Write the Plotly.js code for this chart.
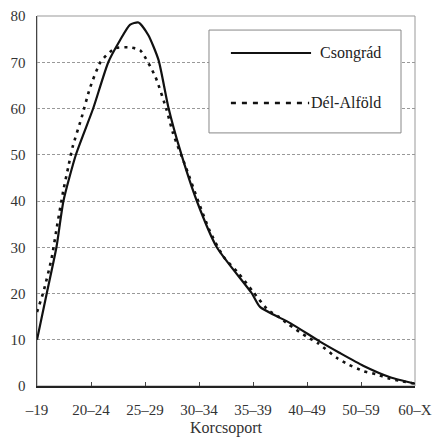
<!DOCTYPE html>
<html>
<head>
<meta charset="utf-8">
<script src="https://cdn.plot.ly/plotly-3.0.1.min.js"></script>
<style>html,body{margin:0;padding:0;background:#fff;}#chart{width:433px;height:437px;}</style>
</head>
<body>
<div id="chart"></div>
<script>
// Category tick labels (age groups)
const categories = ["–19", "20–24", "25–29", "30–34", "35–39", "40–49", "50–59", "60–X"];
const categoryPos = [0, 1, 2, 3, 4, 5, 6, 7];
const xTitle = "Korcsoport";

// Csongrád (solid) – positions along the category axis and values
const csongradX = [0, 0.18, 0.36, 0.49, 0.72, 1.04, 1.32, 1.54, 1.72, 1.88, 2.06, 2.25, 2.43, 2.65, 2.96, 3.33, 3.98, 4.13, 4.69, 5.24, 5.6, 6.04, 6.54, 7];
const csongradY = [10, 20, 30, 40, 50, 60, 70, 74.8, 78.1, 78.6, 75.9, 70.5, 60.4, 51, 40, 30, 20, 17.1, 13.6, 9.6, 7.2, 4.4, 1.9, 0.5];

// Dél-Alföld (dotted)
const delalfoldX = [0, 0.12, 0.27, 0.38, 0.49, 0.58, 0.66, 0.83, 0.98, 1.18, 1.44, 1.72, 1.91, 2.19, 2.40, 2.52, 2.75, 3.0, 3.2, 3.45, 3.73, 4.0, 4.28, 4.47, 4.65, 4.99, 5.21, 5.55, 5.74, 6.05, 6.29, 6.5, 6.72, 7];
const delalfoldY = [16, 20.4, 27.6, 35.2, 42.4, 47.4, 51.7, 58.2, 64.4, 70.1, 73, 73.2, 72.6, 66.9, 59.7, 54.6, 47.5, 39.5, 33.5, 28, 24.4, 20.4, 16.4, 15, 13.4, 10.7, 9.2, 6.1, 4.8, 3.2, 2.5, 1.7, 1.1, 0.5];

const seriesNames = ["Csongrád", "Dél-Alföld"];

const font = "Liberation Serif, Times New Roman, serif";

const traces = [
  {x: csongradX, y: csongradY, name: seriesNames[0], type: "scatter", mode: "lines",
   line: {color: "#111", width: 2.2, shape: "spline", smoothing: 0.6}, showlegend: false},
  {x: delalfoldX, y: delalfoldY, name: seriesNames[1], type: "scatter", mode: "lines",
   line: {color: "#111", width: 2.6, dash: "3px,5px", shape: "spline", smoothing: 0.6}, showlegend: false}
];

const layout = {
  width: 433, height: 437,
  margin: {l: 37, r: 18, t: 16, b: 51},
  paper_bgcolor: "#fff", plot_bgcolor: "#fff",
  font: {family: font, color: "#333", size: 15},
  showlegend: false,
  xaxis: {
    range: [0, 7], tickvals: categoryPos, ticktext: categories,
    showgrid: false, zeroline: false,
    showline: true, linecolor: "#222", linewidth: 1.5,
    ticks: "inside", ticklen: 4, tickcolor: "#444",
    ticklabelstandoff: 9,
    tickfont: {family: font, size: 15, color: "#333"},
    automargin: false
  },
  yaxis: {
    range: [0, 80], dtick: 10,
    showgrid: true, gridcolor: "#999", gridwidth: 1, griddash: "3px,2px",
    zeroline: false,
    showline: true, linecolor: "#444", linewidth: 1.5,
    ticks: "", ticklabelstandoff: 7,
    tickfont: {family: font, size: 15, color: "#333"},
    automargin: false
  },
  shapes: [
    // plot frame (top/right)
    {type: "rect", xref: "paper", yref: "paper", x0: 0, x1: 1, y0: 0, y1: 1,
     line: {color: "#999", width: 1}, layer: "below"},
    // legend box
    {type: "rect", xref: "paper", yref: "paper", x0: 0.455, x1: 0.963, y0: 0.684, y1: 0.962,
     line: {color: "#888", width: 1}, fillcolor: "#fff"},
    {type: "line", xref: "paper", yref: "paper", x0: 0.513, x1: 0.725, y0: 0.9, y1: 0.9,
     line: {color: "#111", width: 2.2}},
    {type: "line", xref: "paper", yref: "paper", x0: 0.513, x1: 0.72, y0: 0.765, y1: 0.765,
     line: {color: "#111", width: 2.6, dash: "5px,6px"}}
  ],
  annotations: [
    {xref: "paper", yref: "paper", x: 0.915, y: 0.9, xanchor: "right", yanchor: "middle",
     text: seriesNames[0], showarrow: false, font: {family: font, size: 16, color: "#222"}},
    {xref: "paper", yref: "paper", x: 0.915, y: 0.765, xanchor: "right", yanchor: "middle",
     text: seriesNames[1], showarrow: false, font: {family: font, size: 16, color: "#222"}},
    // x-axis title
    {xref: "paper", yref: "paper", x: 0.5, y: -0.113, xanchor: "center", yanchor: "middle",
     text: xTitle, showarrow: false, font: {family: font, size: 16, color: "#333"}}
  ]
};

Plotly.newPlot("chart", traces, layout, {displayModeBar: false, staticPlot: true});
</script>
</body>
</html>
